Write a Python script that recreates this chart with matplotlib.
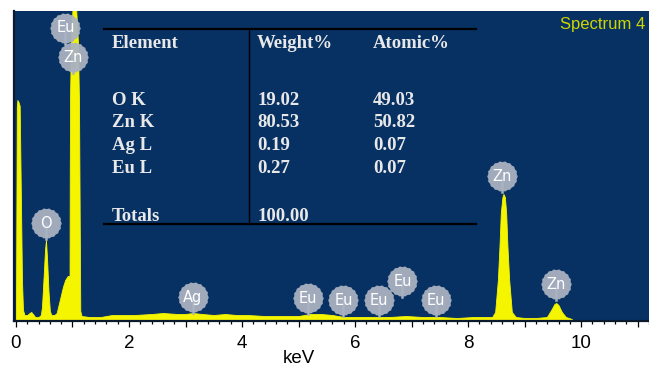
import numpy as np
import matplotlib
matplotlib.use('Agg')
import matplotlib.pyplot as plt
from matplotlib.path import Path
from matplotlib.ticker import MultipleLocator

# EDS spectrum outline (keV, counts)
energy = [0.000, 0.015, 0.025, 0.045, 0.066, 0.083, 0.106, 0.124, 0.150, 0.200,
          0.240, 0.270, 0.300, 0.340, 0.400, 0.440, 0.460, 0.490, 0.515, 0.531,
          0.550, 0.575, 0.600, 0.625, 0.680, 0.720, 0.780, 0.830, 0.870, 0.915,
          0.948, 0.952, 0.958, 0.975, 1.000, 1.030, 1.065, 1.095, 1.115, 1.128,
          1.138, 1.160, 1.30, 1.50, 1.60, 1.70, 1.90, 2.10, 2.40, 2.60,
          2.85, 3.00, 3.13, 3.30, 3.50, 3.70, 3.90, 4.10, 4.40, 4.70,
          5.00, 5.20, 5.40, 5.60, 5.80, 6.20, 6.60, 6.90, 7.20, 7.50,
          7.80, 8.10, 8.40, 8.425, 8.478, 8.526, 8.554, 8.578, 8.607, 8.625,
          8.650, 8.673, 8.696, 8.726, 8.773, 8.844, 9.00, 9.20, 9.393, 9.469,
          9.527, 9.558, 9.598, 9.658, 9.729, 9.835, 9.845, 11.2]
counts = [0, 214, 221, 219, 215, 141, 41, 11, 6, 6,
          8, 9, 7, 4, 4, 6, 14, 45, 72, 81,
          62, 30, 10, 6, 6, 8, 22, 34, 41, 45,
          45, 150, 230, 280, 312, 345, 312, 280, 220, 100,
          10, 5, 4, 4, 5, 6, 6, 6, 7, 8,
          7, 7, 8, 7, 6, 7, 6, 6, 5, 5,
          5, 7, 7, 6, 4, 4, 4, 5, 4, 4,
          3, 4, 4, 4, 9, 41, 74, 108, 124, 127,
          124, 108, 74, 41, 9, 4, 3, 3, 4, 11,
          17, 18, 16, 9, 4, 2, 0, 0]

# peak markers
marker_names = ['Eu', 'Zn', 'O', 'Ag', 'Eu', 'Eu', 'Eu', 'Eu', 'Eu', 'Zn', 'Zn']
marker_kev = [0.876, 1.004, 0.531, 3.127, 5.163, 5.793, 6.425, 6.837, 7.434, 8.607, 9.558]
marker_level = [293.5, 264.3, 98.3, 24.3, 22.7, 21, 21, 40, 21, 145, 36.7]

# quantification table
elements = ['O K', 'Zn K', 'Ag L', 'Eu L']
weight_pct = ['19.02', '80.53', '0.19', '0.27']
atomic_pct = ['49.03', '50.82', '0.07', '0.07']
total_weight = '100.00'

bg = '#073163'
yellow = '#f5f500'
badge_col = '#a9b2c1'

# scalloped badge outline
n = 36
ang = np.linspace(0, 2 * np.pi, n, endpoint=False)
rad = np.where(np.arange(n) % 2 == 0, 1.0, 0.94)
verts = np.column_stack([rad * np.cos(ang), rad * np.sin(ang)])
verts = np.vstack([verts, verts[:1]])
badge = Path(verts, [Path.MOVETO] + [Path.LINETO] * (n - 1) + [Path.CLOSEPOLY])

fig = plt.figure(figsize=(6.49, 3.68), dpi=100)
ax = fig.add_axes([14.5 / 649, 47 / 368, 1 - 14.5 / 649, 310 / 368])
ax.set_facecolor(bg)

ax.fill_between(energy, counts, 0, color=yellow, linewidth=0.6, edgecolor=yellow)

# badges with stems
for name, k, lv in zip(marker_names, marker_kev, marker_level):
    ax.plot([k, k], [lv, lv - 16], color=badge_col, lw=1.8, zorder=3)
    ax.plot(k, lv, marker=badge, markersize=22, color=badge_col,
            markeredgewidth=0, alpha=0.95, zorder=4)
    ax.text(k, lv - 0.5, name, color='white', fontsize=10.5, ha='center', va='center',
            family='DejaVu Sans', zorder=5)

# table lines
ax.plot([1.558, 8.142], [292, 292], color='black', lw=1.6, zorder=2)
ax.plot([1.558, 8.142], [97, 97], color='black', lw=1.6, zorder=2)
ax.plot([4.129, 4.129], [97, 292], color='black', lw=1.0, zorder=2)

tbl = dict(color='#e8e8e8', fontsize=13.5, fontweight='bold',
           family='Liberation Serif', va='baseline', ha='left', zorder=2)
ax.text(1.70, 272.7, 'Element', **tbl)
ax.text(4.265, 272.7, 'Weight%', **tbl)
ax.text(6.319, 272.7, 'Atomic%', **tbl)
row_y = [216, 193.7, 171, 148]
for y, el, w, a in zip(row_y, elements, weight_pct, atomic_pct):
    ax.text(1.70, y, el, **tbl)
    ax.text(4.265, y, w, **tbl)
    ax.text(6.319, y, a, **tbl)
ax.text(1.70, 100.3, 'Totals', **tbl)
ax.text(4.265, 100.3, total_weight, **tbl)

ax.text(11.13, 291.7, 'Spectrum 4', color='#cdd600', fontsize=12,
        family='Liberation Sans', ha='right', va='baseline')

ax.set_xlim(-0.026, 11.2)
ax.set_ylim(0, 310)
ax.xaxis.set_minor_locator(MultipleLocator(0.2))
ax.set_xticks([0, 1, 2, 3, 4, 5, 6, 7, 8, 9, 10, 11])
ax.set_xticklabels(['0', '', '2', '', '4', '', '6', '', '8', '', '10', ''],
                   family='Liberation Sans', fontsize=13.5)
ax.tick_params(axis='x', which='major', direction='out', length=4.3, width=0.9,
               color='black', pad=6)
ax.tick_params(axis='x', which='minor', direction='out', length=2.2, width=0.9,
               color='black')
ax.set_yticks([])

for side in ['top', 'right']:
    ax.spines[side].set_visible(False)
for side in ['left', 'bottom']:
    ax.spines[side].set_color('#0d1a2e')
    ax.spines[side].set_linewidth(1.6)

ax.set_xlabel('keV', family='Liberation Sans', fontsize=13.5)
ax.xaxis.set_label_coords((299 - 14.5) / (649 - 14.5), -0.092)

fig.savefig('out.png', dpi=100, facecolor='white')
plt.close(fig)
